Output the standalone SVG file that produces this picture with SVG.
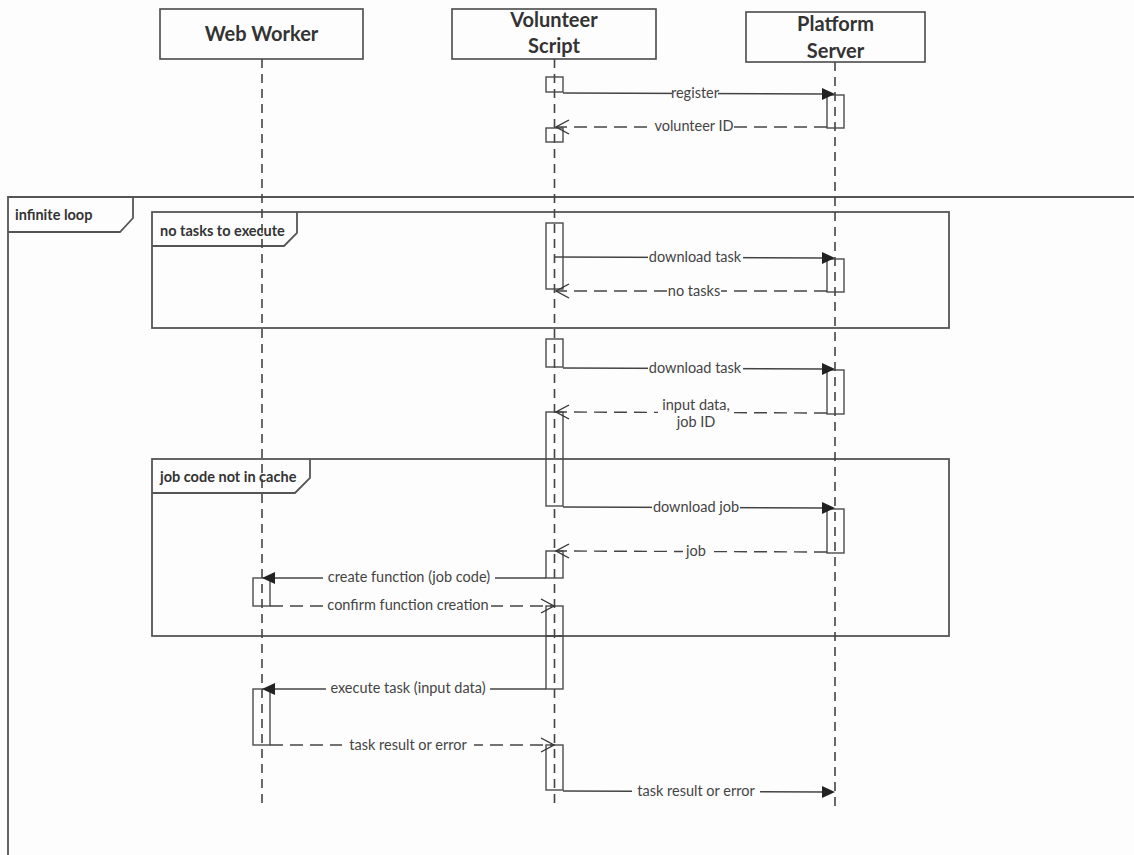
<svg xmlns="http://www.w3.org/2000/svg" width="1134" height="855" viewBox="0 0 1134 855">
<style>
.bg{fill:#fdfdfd}
.hdr{fill:#fdfdfd;stroke:#4a4a4a;stroke-width:1.6}
.ht{font-family:Lato,"Liberation Sans",sans-serif;font-weight:bold;font-size:20px;fill:#333;text-anchor:middle}
.life{stroke:#444;stroke-width:1.6;stroke-dasharray:9 6;fill:none}
.act{fill:none;stroke:#4a4a4a;stroke-width:1.4}
.frame{fill:none;stroke:#555;stroke-width:1.8}
.ft{font-family:Lato,"Liberation Sans",sans-serif;font-weight:bold;font-size:14.5px;fill:#333}
.msg{stroke:#444;stroke-width:1.4;fill:none}
.ret{stroke:#444;stroke-width:1.4;fill:none;stroke-dasharray:13 7}
.lbl{font-family:Lato,"Liberation Sans",sans-serif;font-size:14.5px;fill:#444;text-anchor:middle}
.lb{fill:#fdfdfd}
.head{fill:#222}
.open{fill:none;stroke:#333;stroke-width:1.4}
</style>
<rect class="bg" x="0" y="0" width="1134" height="855"/>

<!-- frames -->
<g id="frame-loop">
<path class="frame" d="M8,855 L8,197 L1134,197"/>
<path class="frame" d="M8,197 L133,197 L133,218 L120,232 L8,232"/>
<text class="ft" x="15" y="220">infinite loop</text>
</g>
<g id="frame-notasks">
<rect class="frame" x="152" y="212" width="797" height="116"/>
<path class="frame" d="M152,246 L284,246 L297,233 L297,212"/>
<text class="ft" x="160" y="236">no tasks to execute</text>
</g>
<g id="frame-jobcode">
<rect class="frame" x="152" y="459" width="797" height="177"/>
<path class="frame" d="M152,493 L295,493 L310,478 L310,459"/>
<text class="ft" x="160" y="482">job code not in cache</text>
</g>

<!-- lifelines and headers -->
<g id="web-worker">
<line class="life" x1="262" y1="59" x2="262" y2="807"/>
<rect class="hdr" x="160" y="9" width="203" height="50"/>
<text class="ht" x="261.5" y="41">Web Worker</text>
<rect class="act" x="253" y="578" width="17" height="28"/>
<rect class="act" x="253" y="689" width="17" height="56"/>
</g>
<g id="volunteer-script">
<line class="life" x1="554.5" y1="59" x2="554.5" y2="807"/>
<rect class="hdr" x="452" y="9" width="204" height="50"/>
<text class="ht" x="554" y="27">Volunteer</text>
<text class="ht" x="554" y="53">Script</text>
<rect class="act" x="546" y="77" width="17" height="15"/>
<rect class="act" x="546" y="128" width="17" height="14"/>
<rect class="act" x="546" y="223" width="17" height="66"/>
<rect class="act" x="546" y="339" width="17" height="28"/>
<rect class="act" x="546" y="412" width="17" height="94"/>
<rect class="act" x="546" y="551" width="17" height="27"/>
<rect class="act" x="546" y="606" width="17" height="30"/>
<rect class="act" x="546" y="636" width="17" height="53"/>
<rect class="act" x="546" y="745" width="17" height="45"/>
</g>
<g id="platform-server">
<line class="life" x1="835" y1="62" x2="835" y2="807"/>
<rect class="hdr" x="746" y="12" width="179" height="50"/>
<text class="ht" x="835.5" y="31">Platform</text>
<text class="ht" x="835.5" y="58">Server</text>
<rect class="act" x="827" y="95" width="17" height="33"/>
<rect class="act" x="827" y="259" width="17" height="33"/>
<rect class="act" x="827" y="370" width="17" height="44"/>
<rect class="act" x="827" y="509" width="17" height="44"/>
</g>

<!-- connectors -->
<g id="connectors">
<line class="msg" x1="563" y1="93" x2="824" y2="94"/>
<polygon class="head" points="835,94 822,88 822,100"/>
<rect class="lb" x="672" y="86" width="46" height="15"/>
<text class="lbl" x="695" y="98">register</text>

<line class="ret" x1="827" y1="127" x2="557" y2="127"/>
<path class="open" d="M569,120 L556,127 L569,134"/>
<rect class="lb" x="654" y="119" width="80" height="15"/>
<text class="lbl" x="694" y="131">volunteer ID</text>

<line class="msg" x1="554" y1="257" x2="824" y2="258"/>
<polygon class="head" points="835,258 822,252 822,264"/>
<rect class="lb" x="648" y="250" width="95" height="15"/>
<text class="lbl" x="695" y="262">download task</text>

<line class="ret" x1="827" y1="291" x2="557" y2="291"/>
<path class="open" d="M569,284 L556,291 L569,298"/>
<rect class="lb" x="667" y="284" width="54" height="15"/>
<text class="lbl" x="694" y="296">no tasks</text>

<line class="msg" x1="563" y1="368" x2="824" y2="369"/>
<polygon class="head" points="835,369 822,363 822,375"/>
<rect class="lb" x="648" y="361" width="95" height="15"/>
<text class="lbl" x="695" y="373">download task</text>

<line class="ret" x1="827" y1="413" x2="557" y2="412"/>
<path class="open" d="M569,405 L556,412 L569,419"/>
<rect class="lb" x="658" y="397" width="76" height="30"/>
<text class="lbl" x="696" y="410">input data,</text>
<text class="lbl" x="696" y="427">job ID</text>

<line class="msg" x1="563" y1="507" x2="824" y2="508"/>
<polygon class="head" points="835,508 822,502 822,514"/>
<rect class="lb" x="652" y="500" width="88" height="15"/>
<text class="lbl" x="696" y="512">download job</text>

<line class="ret" x1="827" y1="552" x2="557" y2="551"/>
<path class="open" d="M569,544 L556,551 L569,558"/>
<rect class="lb" x="683" y="544" width="26" height="15"/>
<text class="lbl" x="696" y="556">job</text>

<line class="msg" x1="546" y1="578" x2="272" y2="578"/>
<polygon class="head" points="262,578 275,572 275,584"/>
<rect class="lb" x="323" y="570" width="172" height="15"/>
<text class="lbl" x="409" y="582">create function (job code)</text>

<line class="ret" x1="270" y1="606" x2="552" y2="606"/>
<path class="open" d="M541,599 L554,606 L541,613"/>
<rect class="lb" x="324" y="598" width="167" height="15"/>
<text class="lbl" x="408" y="610">confirm function creation</text>

<line class="msg" x1="546" y1="689" x2="272" y2="689"/>
<polygon class="head" points="262,689 275,683 275,695"/>
<rect class="lb" x="326" y="681" width="164" height="15"/>
<text class="lbl" x="408" y="693">execute task (input data)</text>

<line class="ret" x1="270" y1="745" x2="552" y2="745"/>
<path class="open" d="M541,738 L554,745 L541,752"/>
<rect class="lb" x="342" y="737" width="132" height="15"/>
<text class="lbl" x="408" y="750">task result or error</text>

<line class="msg" x1="563" y1="791" x2="824" y2="792"/>
<polygon class="head" points="835,792 822,786 822,798"/>
<rect class="lb" x="632" y="784" width="128" height="15"/>
<text class="lbl" x="696" y="796">task result or error</text>
</g>
</svg>
